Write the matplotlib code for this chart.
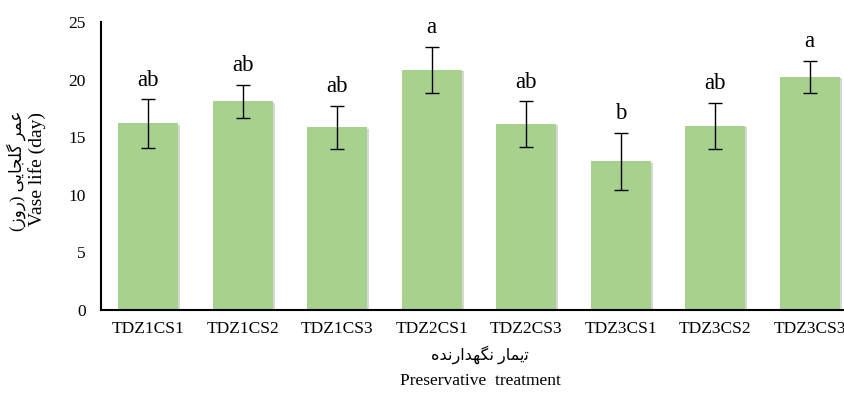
import matplotlib
matplotlib.use('Agg')
import matplotlib.pyplot as plt
import matplotlib.patheffects as pe
import numpy as np

# Данные
treatments = ['TDZ1CS1', 'TDZ1CS2', 'TDZ1CS3', 'TDZ2CS1',
              'TDZ2CS3', 'TDZ3CS1', 'TDZ3CS2', 'TDZ3CS3']
vase_life = [16.2, 18.1, 15.85, 20.85, 16.15, 12.9, 16.0, 20.25]
errors = [2.1, 1.45, 1.9, 2.0, 2.0, 2.5, 2.0, 1.4]
letters = ['ab', 'ab', 'ab', 'a', 'ab', 'b', 'ab', 'a']

# Persian text in presentation forms, visual order
fa_ylabel = ('\u0028\uFEAF\uFEED\uFEAD\u0029 '
             '\uFBFD\uFBFE\uFE8E\uFEA0\uFEE0\uFB94 '
             '\uFEAE\uFEE4\uFECB')
fa_xlabel = ('\uFEE9\uFEAA\uFEE7\uFEAD\uFE8D\uFEAA\uFEEC\uFB95\uFEE7 '
             '\uFEAD\uFE8E\uFEE4\uFBFE\uFE97')

FONTS = ['Liberation Serif', 'DejaVu Sans']
plt.rcParams['font.family'] = FONTS

fig = plt.figure(figsize=(8.45, 4.07), dpi=100)
ax = fig.add_axes([101/845, 1 - 310/407, (857-101)/845, (310-22)/407])

x = np.arange(len(treatments))
bars = ax.bar(x, vase_life, width=0.63, color='#a9d18e', zorder=2)
for b in bars:
    b.set_path_effects([pe.SimplePatchShadow(offset=(1.5, -1), alpha=0.2),
                        pe.Normal()])
ax.errorbar(x, vase_life, yerr=errors, fmt='none', ecolor='black',
            elinewidth=1, capsize=5, capthick=1, zorder=3)

for xi, v, e, lt in zip(x, vase_life, errors, letters):
    ax.annotate(lt, (xi, v + e), xytext=(0, 6), textcoords='offset points',
                ha='center', va='bottom', fontsize=16.5)

ax.set_xlim(-0.5, 7.5)
ax.set_ylim(0, 25)
ax.set_yticks(range(0, 26, 5))
ax.set_xticks(x)
ax.set_xticklabels(treatments)
ax.tick_params(axis='both', length=0, labelsize=12.5)
ax.tick_params(axis='x', pad=8)
ax.tick_params(axis='y', pad=11)
for s in ['top', 'right']:
    ax.spines[s].set_visible(False)
for s in ['left', 'bottom']:
    ax.spines[s].set_linewidth(1.5)

fig.text(16/845, 1 - 171/407, fa_ylabel, rotation=90, ha='center',
         va='center', fontsize=12)
fig.text(37/845, 1 - 169/407, 'Vase life (day)', rotation=90, ha='center',
         va='center', fontsize=14)
fig.text(480/845, 1 - 355/407, fa_xlabel, ha='center', va='center',
         fontsize=11.5)
fig.text(480/845, 1 - 381/407, 'Preservative  treatment', ha='center',
         va='center', fontsize=12.5)

fig.savefig('out.png', dpi=100)
